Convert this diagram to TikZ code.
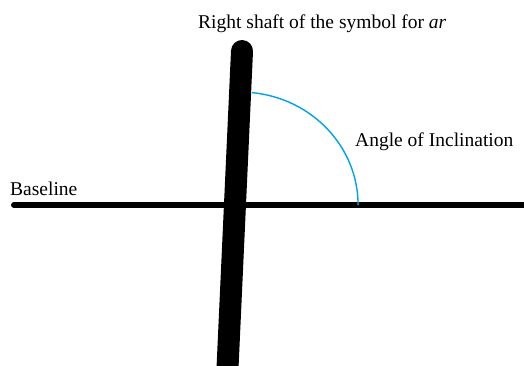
\documentclass[tikz,border=0pt]{standalone}
\usepackage{fontspec}
\setmainfont{Liberation Serif}
\newfontfamily\timesfont{Liberation Serif}
\definecolor{arcblue}{RGB}{0,162,232}
\begin{document}
\begin{tikzpicture}[x=1pt,y=-1pt,
  lbl/.style={inner sep=0pt,anchor=base west,font=\timesfont\fontsize{19.5}{22}\selectfont},
  thick line/.style={line width=6pt,line cap=round},
  shaftline/.style={line width=22pt,line cap=round},
  anglearc/.style={draw=arcblue,line width=1.4pt}]
\useasboundingbox (0,0) rectangle (524,365);
\begin{scope}
\clip (0,0) rectangle (524,365);
\coordinate (bl0) at (14,205);
\coordinate (bl1) at (540,205);
\draw[thick line] (bl0) -- (bl1);
\coordinate (sh0) at (242,51);
\coordinate (sh1) at (226.5,390);
\draw[shaftline] (sh0) -- (sh1);
\coordinate (ac) at (240,205);
\coordinate (astart) at (252,92.6);
\draw[anglearc] (astart) arc[start angle=84.2,end angle=0,x radius=118,y radius=-113];
\end{scope}
\node[lbl] (title) at (198,28) {Right shaft of the symbol for \textit{ar}};
\node[lbl] (angle) at (355,146) {Angle of Inclination};
\node[lbl] (base) at (10,195) {Baseline};
\end{tikzpicture}
\end{document}
